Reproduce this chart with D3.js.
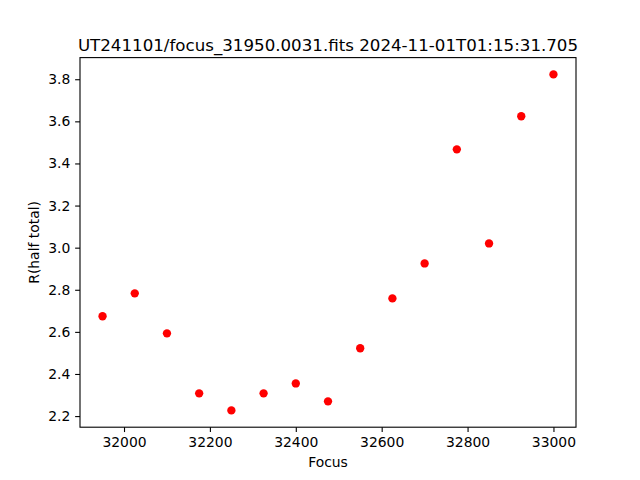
<!DOCTYPE html>
<html>
<head>
<meta charset="utf-8">
<script src="https://cdn.jsdelivr.net/npm/d3@7"></script>
<style>
  body { margin: 0; background: #fff; }
  svg { display: block; }
  text { font-family: "DejaVu Sans", sans-serif; fill: #000; }
</style>
</head>
<body>
<svg id="chart" width="640" height="480"></svg>
<script>
const focus = [31950, 32025, 32100, 32175, 32250, 32325, 32400, 32475, 32550, 32625, 32700, 32775, 32850, 32925, 33000];
const rHalf = [2.674, 2.783, 2.593, 2.308, 2.227, 2.308, 2.355, 2.270, 2.522, 2.759, 2.925, 3.467, 3.020, 3.624, 3.823];
const xTicks = [32000, 32200, 32400, 32600, 32800, 33000];
const yTicks = [2.2, 2.4, 2.6, 2.8, 3.0, 3.2, 3.4, 3.6, 3.8];
const titleText = "UT241101/focus_31950.0031.fits 2024-11-01T01:15:31.705";
const xLabel = "Focus";
const yLabel = "R(half total)";

(function () {
const W = 640, H = 480;
const mLeft = 80, mRight = 576, mTop = 57.6, mBottom = 427.2;

function padded(vals) {
  const mn = d3.min(vals), mx = d3.max(vals), m = (mx - mn) * 0.05;
  return [mn - m, mx + m];
}

const x = d3.scaleLinear().domain(padded(focus)).range([mLeft, mRight]);
const y = d3.scaleLinear().domain(padded(rHalf)).range([mBottom, mTop]);

const svg = d3.select("#chart");
svg.append("rect").attr("width", W).attr("height", H).attr("fill", "#fff");

const tickLen = 4.86, tickPad = 4.86;

const xAxis = d3.axisBottom(x).tickValues(xTicks).tickFormat(d3.format("d"))
  .tickSizeInner(tickLen).tickSizeOuter(0).tickPadding(tickPad);
const gx = svg.append("g").attr("transform", `translate(0,${mBottom})`).call(xAxis);
gx.select(".domain").remove();
gx.selectAll("line").attr("stroke", "#000").attr("stroke-width", 1.1);
gx.selectAll("text").attr("font-size", "13.9px").attr("font-family", "DejaVu Sans");

const yAxis = d3.axisLeft(y).tickValues(yTicks).tickFormat(d3.format(".1f"))
  .tickSizeInner(tickLen).tickSizeOuter(0).tickPadding(tickPad);
const gy = svg.append("g").attr("transform", `translate(${mLeft},0)`).call(yAxis);
gy.select(".domain").remove();
gy.selectAll("line").attr("stroke", "#000").attr("stroke-width", 1.1);
gy.selectAll("text").attr("font-size", "13.9px").attr("font-family", "DejaVu Sans");

svg.append("g").selectAll("circle")
  .data(focus.map((f, i) => [f, rHalf[i]]))
  .join("circle")
  .attr("cx", d => x(d[0]))
  .attr("cy", d => y(d[1]))
  .attr("r", 4.17)
  .attr("fill", "#ff0000");

svg.append("rect")
  .attr("x", mLeft).attr("y", mTop)
  .attr("width", mRight - mLeft).attr("height", mBottom - mTop)
  .attr("fill", "none").attr("stroke", "#000").attr("stroke-width", 1.1);

svg.append("text")
  .attr("x", (mLeft + mRight) / 2).attr("y", mTop - 7)
  .attr("text-anchor", "middle")
  .attr("font-size", "16.67px")
  .text(titleText);

svg.append("text")
  .attr("x", (mLeft + mRight) / 2).attr("y", 467)
  .attr("text-anchor", "middle")
  .attr("font-size", "13.9px")
  .text(xLabel);

svg.append("text")
  .attr("transform", `translate(39,${(mTop + mBottom) / 2}) rotate(-90)`)
  .attr("text-anchor", "middle")
  .attr("font-size", "13.9px")
  .text(yLabel);
})();
</script>
</body>
</html>
